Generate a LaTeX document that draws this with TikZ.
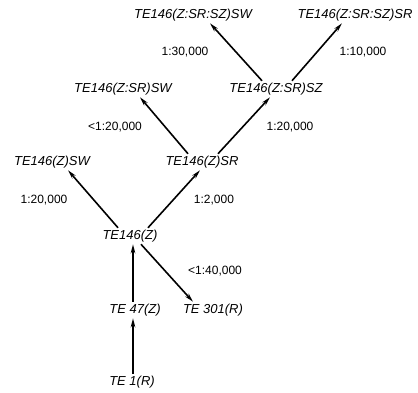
\documentclass[tikz,border=0pt]{standalone}
\usepackage{fontspec}
\setmainfont{Liberation Sans}
\usetikzlibrary{arrows.meta,calc}
\tikzset{
  taxon/.style={font=\itshape\fontsize{13}{15}\selectfont, inner sep=2pt},
  ratio/.style={font=\fontsize{12}{14}\selectfont, inner sep=0pt},
  arr/.style={line width=1.6pt, -{Stealth[length=9pt,width=4.5pt]}}
}
\begin{document}
\begin{tikzpicture}[x=1pt,y=-1pt]
\useasboundingbox (0,0) rectangle (418,392);
% strains
\node[taxon] (zsrszsw) at (193,15) {TE146(Z:SR:SZ)SW};
\node[taxon] (zsrszsr) at (355,15) {TE146(Z:SR:SZ)SR};
\node[taxon] (zsrsz)   at (276,89) {TE146(Z:SR)SZ};
\node[taxon] (zsrsw)   at (123,89) {TE146(Z:SR)SW};
\node[taxon] (zsr)     at (202,162) {TE146(Z)SR};
\node[taxon] (zsw)     at (52,162) {TE146(Z)SW};
\node[taxon] (z)       at (130,236) {TE146(Z)};
\node[taxon] (te47)    at (135,310) {TE 47(Z)};
\node[taxon] (te301)   at (213,310) {TE 301(R)};
\node[taxon] (te1)     at (132,382) {TE 1(R)};
% transfer ratios
\node[ratio] (r1) at (185,52)  {1:30,000};
\node[ratio] (r2) at (363,52)  {1:10,000};
\node[ratio] (r3) at (115,127) {<1:20,000};
\node[ratio] (r4) at (290,127) {1:20,000};
\node[ratio] (r5) at (44,200)  {1:20,000};
\node[ratio] (r6) at (214,200) {1:2,000};
\node[ratio] (r7) at (215,271) {<1:40,000};
% derivations
\coordinate (ax) at (133,0);
\draw[arr] (te1.north -| ax) -- (te47.south -| ax);
\draw[arr] (te47.north -| ax) -- (z.south -| ax);
\draw[arr] ($(z.north)+(-12,0)$) -- ($(zsw.south)+(16,0)$);
\draw[arr] ($(z.north)+(18,0)$) -- ($(zsr.south)+(-2,0)$);
\draw[arr] ($(z.south)+(11,0)$) -- ($(te301.north)+(-20,0)$);
\draw[arr] ($(zsr.north)+(-14,0)$) -- ($(zsrsw.south)+(17,0)$);
\draw[arr] ($(zsr.north)+(16,0)$) -- ($(zsrsz.south)+(-6,0)$);
\draw[arr] ($(zsrsz.north)+(-14,0)$) -- ($(zsrszsw.south)+(17,0)$);
\draw[arr] ($(zsrsz.north)+(16,0)$) -- ($(zsrszsr.south)+(-13,0)$);
\end{tikzpicture}
\end{document}
